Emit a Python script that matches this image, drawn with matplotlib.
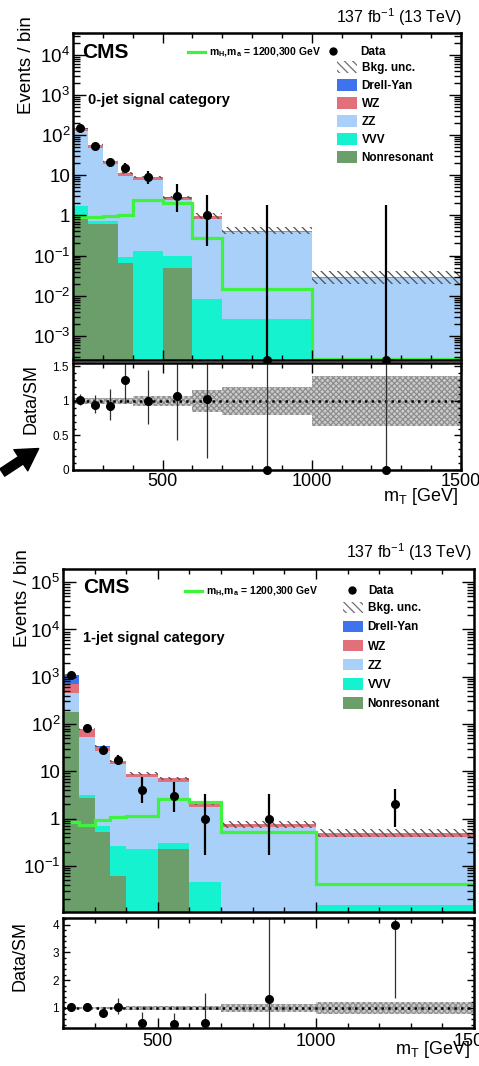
import numpy as np
import matplotlib
matplotlib.use("Agg")
import matplotlib.pyplot as plt
from matplotlib.lines import Line2D
from matplotlib.patches import Patch
from matplotlib.ticker import MultipleLocator, LogLocator, FuncFormatter, NullFormatter

plt.rcParams['font.family'] = ['Liberation Sans', 'DejaVu Sans']
plt.rcParams['mathtext.fontset'] = 'custom'
plt.rcParams['mathtext.rm'] = 'Liberation Sans'
plt.rcParams['mathtext.it'] = 'Liberation Sans:italic'
plt.rcParams['mathtext.bf'] = 'Liberation Sans:bold'
plt.rcParams['hatch.linewidth'] = 0.9

W, H = 479, 1066

# bin edges in mT [GeV]
edges = [200, 250, 300, 350, 400, 500, 600, 700, 1000, 1500]
centers = [225, 275, 325, 375, 450, 550, 650, 850, 1250]

# ---- 0-jet category ----
nonres0 = [0.95, 0.62, 0.62, 0.065, 0.0, 0.05, 0.0, 0.0, 0.0]
vvv0 = [0.75, 0.10, 0.10, 0.029, 0.13, 0.05, 0.0085, 0.0027, 0.00001]
zz0 = [122, 48, 18.4, 9.55, 7.55, 2.27, 0.81, 0.375, 0.028]
wz0 = [22, 9.0, 3.4, 1.8, 1.3, 0.42, 0.15, 0.04, 0.002]
dy0 = [1.5, 0.3, 0.1, 0.05, 0.02, 0.01, 0.005, 0.002, 0.0]
unc0 = [0.04, 0.04, 0.04, 0.04, 0.075, 0.075, 0.16, 0.2, 0.36]
signal0 = [0.9, 0.92, 0.97, 1.05, 2.4, 2.0, 0.27, 0.015, 0.000001]
data0 = [150, 55, 21, 15, 9, 3, 1, 0, 0]
data0_lo = [12, 7, 4.5, 3.8, 3.0, 1.8, 0.83, 0, 0]
data0_hi = [12, 8, 5.5, 4.9, 4.1, 3.0, 2.3, 1.84, 1.84]

# ---- 1-jet category ----
nonres1 = [180, 2.7, 0.51, 0.061, 0.0, 0.23, 0.0, 0.0, 0.0]
vvv1 = [2.0, 0.5, 0.19, 0.2, 0.23, 0.07, 0.046, 0.005, 0.015]
zz1 = [278, 49.8, 26.3, 13.7, 7.47, 5.7, 1.75, 0.675, 0.385]
wz1 = [250, 24, 6.5, 2.7, 1.2, 1.1, 0.33, 0.08, 0.1]
dy1 = [358, 1.0, 0.5, 0.04, 0.0, 0.0, 0.0, 0.0, 0.0]
unc1 = [0.05, 0.05, 0.05, 0.05, 0.07, 0.07, 0.07, 0.15, 0.2]
signal1 = [0.83, 0.75, 0.94, 1.07, 1.16, 2.6, 2.3, 0.51, 0.042]
data1 = [1100, 82, 28, 17.5, 4, 3, 1, 1, 2]
data1_lo = [33, 9, 5.3, 4.2, 1.9, 1.64, 0.83, 0.83, 1.32]
data1_hi = [33, 9.5, 5.8, 5.0, 3.6, 2.9, 2.3, 2.3, 2.28]

stack_names = ['Nonresonant', 'VVV', 'ZZ', 'WZ', 'Drell-Yan']
colors = {'Drell-Yan': '#3d74ee', 'WZ': '#e2707a', 'ZZ': '#a9d0f9',
          'VVV': '#14f2d0', 'Nonresonant': '#6c9e6c'}
sig_color = '#3ef23e'


def px_box(x0, y0, x1, y1):
    return [x0 / W, 1 - y1 / H, (x1 - x0) / W, (y1 - y0) / H]


def log_fmt(v, pos):
    if abs(v - 1) < 1e-9:
        return '1'
    if abs(v - 10) < 1e-9:
        return '10'
    return r'$10^{%d}$' % int(round(np.log10(v)))


def draw_category(fig, cfg):
    ax = fig.add_axes(px_box(*cfg['main']))
    axr = fig.add_axes(px_box(*cfg['ratio']))
    ymin, ymax = cfg['ylim']

    # stacked backgrounds
    bottom = np.full(len(centers), ymin * 1e-3)
    for name in stack_names:
        top = bottom + np.array(cfg['comps'][name])
        ax.stairs(top, edges, baseline=bottom, fill=True, color=colors[name], lw=0)
        bottom = top
    total = bottom - ymin * 1e-3
    unc = np.array(cfg['unc'])
    ax.stairs(total * (1 + unc), edges, baseline=total * (1 - unc), fill=True,
              facecolor='none', edgecolor='#505050', hatch='\\\\\\\\', lw=0)

    # signal
    sig = np.clip(cfg['signal'], ymin * 1.06, None)
    ax.stairs(sig, edges, baseline=ymin * 1e-3, color=sig_color, lw=2.3)

    # data
    data = np.array(cfg['data'], dtype=float)
    lo = np.array(cfg['lo'])
    hi = np.array(cfg['hi'])
    nz = data > 0
    ax.errorbar(np.array(centers)[nz], data[nz], yerr=[lo[nz], hi[nz]], fmt='o',
                color='k', ms=5.5, lw=1.6, capsize=0)
    if (~nz).any():
        ax.errorbar(np.array(centers)[~nz], np.full((~nz).sum(), ymin),
                    yerr=[lo[~nz], hi[~nz]], fmt='o', color='k', ms=5.5,
                    lw=1.6, capsize=0, clip_on=False)

    ax.set_yscale('log')
    ax.set_xlim(200, 1500)
    ax.set_ylim(ymin, ymax)
    ax.yaxis.set_major_locator(LogLocator(base=10, numticks=20))
    ax.yaxis.set_minor_locator(LogLocator(base=10, subs=np.arange(2, 10), numticks=100))
    ax.yaxis.set_major_formatter(FuncFormatter(log_fmt))
    ax.yaxis.set_minor_formatter(NullFormatter())

    # ratio panel
    ratio = data / total
    axr.stairs(1 + unc, edges, baseline=1 - unc, fill=True, facecolor='#cccccc',
               edgecolor='#8e8e8e', hatch='xxxxxx', lw=0)
    axr.axhline(1, color='k', ls=':', lw=1.8)
    axr.errorbar(centers, ratio, yerr=[lo / total, hi / total], fmt='none',
                 ecolor='#303030', elinewidth=0.9, capsize=0)
    axr.plot(centers, ratio, 'o', color='k', ms=5.5, clip_on=False, zorder=5)
    axr.set_xlim(200, 1500)
    axr.set_ylim(*cfg['rylim'])
    axr.yaxis.set_major_locator(MultipleLocator(cfg['rmajor']))
    axr.yaxis.set_minor_locator(MultipleLocator(cfg['rminor']))
    axr.yaxis.set_major_formatter(FuncFormatter(lambda v, pos: '%g' % v))

    for a in (ax, axr):
        a.xaxis.set_major_locator(MultipleLocator(500))
        a.xaxis.set_minor_locator(MultipleLocator(100))
        a.tick_params(which='both', direction='in', top=True, right=True, width=1)
        a.tick_params(axis='x', which='major', length=7)
        a.tick_params(axis='x', which='minor', length=3.5)
        for s in a.spines.values():
            s.set_linewidth(1.8)
    ax.tick_params(axis='y', which='major', length=9, labelsize=13.5, pad=2)
    ax.tick_params(axis='y', which='minor', length=5)
    ax.tick_params(axis='x', labelbottom=False)
    axr.tick_params(axis='y', which='major', length=5, labelsize=8.5, pad=3)
    axr.tick_params(axis='y', which='minor', length=2.5)
    axr.tick_params(axis='x', which='major', labelsize=13, pad=cfg['xpad'])

    # texts
    ax.text(cfg['cms'][0], cfg['cms'][1], 'CMS', transform=ax.transAxes,
            fontsize=15, fontweight='bold', va='center', ha='left')
    ax.text(cfg['cat'][0], cfg['cat'][1], cfg['title'], transform=ax.transAxes,
            fontsize=10.5, fontweight='bold', va='center', ha='left')

    # legends
    lg = cfg['leg']
    leg_sig = ax.legend([Line2D([], [], color=sig_color, lw=2.3)],
                        [r'm$_\mathregular{H}$,m$_\mathregular{a}$ = 1200,300 GeV'],
                        loc='center left', bbox_to_anchor=lg['sig'], frameon=False,
                        borderpad=0, borderaxespad=0, handlelength=1.6,
                        handletextpad=0.4, prop={'size': 7.5, 'weight': 'bold'})
    ax.add_artist(leg_sig)
    leg_dat = ax.legend([Line2D([], [], marker='o', color='k', ls='none', ms=5)],
                        ['Data'], loc='center left', bbox_to_anchor=lg['data'],
                        frameon=False, borderpad=0, borderaxespad=0,
                        handlelength=1.0, handletextpad=lg['dpad'],
                        prop={'size': 8.5, 'weight': 'bold'})
    ax.add_artist(leg_dat)
    handles = [Patch(facecolor='none', edgecolor='#707070', hatch='\\\\\\\\', lw=0)]
    labels = ['Bkg. unc.']
    for name in ['Drell-Yan', 'WZ', 'ZZ', 'VVV', 'Nonresonant']:
        handles.append(Patch(facecolor=colors[name], lw=0))
        labels.append(name)
    ax.legend(handles, labels, loc='upper left', bbox_to_anchor=lg['bkg'],
              frameon=False, borderpad=0, borderaxespad=0, handlelength=1.7,
              handleheight=1.1, handletextpad=0.4, labelspacing=lg['spacing'],
              prop={'size': 8.5, 'weight': 'bold'})
    return ax, axr


fig = plt.figure(figsize=(W / 100, H / 100), dpi=100)

cfg0 = dict(main=(73, 33, 461, 360), ratio=(73, 363, 461, 470),
            comps={'Nonresonant': nonres0, 'VVV': vvv0, 'ZZ': zz0, 'WZ': wz0,
                   'Drell-Yan': dy0},
            unc=unc0, signal=signal0, data=data0, lo=data0_lo, hi=data0_hi,
            ylim=(2.5e-4, 3.5e4), rylim=(0, 1.55), rmajor=0.5, rminor=0.1,
            xpad=2, cms=(0.023, 0.939), cat=(0.039, 0.795),
            title='0-jet signal category',
            leg=dict(sig=(0.296, 0.941), data=(0.654, 0.941), dpad=1.8,
                     bkg=(0.68, 0.913), spacing=0.45))
cfg1 = dict(main=(63, 569, 474, 912), ratio=(63, 918, 474, 1028),
            comps={'Nonresonant': nonres1, 'VVV': vvv1, 'ZZ': zz1, 'WZ': wz1,
                   'Drell-Yan': dy1},
            unc=unc1, signal=signal1, data=data1, lo=data1_lo, hi=data1_hi,
            ylim=(0.0106, 1.9e5), rylim=(0.28, 4.24), rmajor=1, rminor=0.2,
            xpad=3.5, cms=(0.049, 0.945), cat=(0.049, 0.799),
            title='1-jet signal category',
            leg=dict(sig=(0.297, 0.935), data=(0.69, 0.935), dpad=0.8,
                     bkg=(0.681, 0.905), spacing=0.55))

draw_category(fig, cfg0)
draw_category(fig, cfg1)

# figure-level labels
lumi = r'137 fb$^{\mathregular{-1}}$ (13 TeV)'
fig.text(462 / W, 1 - 17 / H, lumi, ha='right', va='center', fontsize=11.5)
fig.text(472 / W, 1 - 552 / H, lumi, ha='right', va='center', fontsize=11.5)
fig.text(27 / W, 1 - 16 / H, 'Events / bin', rotation=90, ha='center', va='top', fontsize=13.5)
fig.text(23 / W, 1 - 549 / H, 'Events / bin', rotation=90, ha='center', va='top', fontsize=13.5)
fig.text(31 / W, 1 - 399 / H, 'Data/SM', rotation=90, ha='center', va='center', fontsize=13)
fig.text(20 / W, 1 - 956 / H, 'Data/SM', rotation=90, ha='center', va='center', fontsize=13)
fig.text(458 / W, 1 - 497 / H, r'm$_\mathregular{T}$ [GeV]', ha='right', va='center', fontsize=13)
fig.text(470 / W, 1 - 1050 / H, r'm$_\mathregular{T}$ [GeV]', ha='right', va='center', fontsize=13)

# black arrow in the lower left of the first panel
fig.add_artist(matplotlib.patches.FancyArrowPatch(
    (0 / W, 1 - 474 / H), (41 / W, 1 - 447 / H), transform=fig.transFigure,
    arrowstyle='simple,head_length=1.1,head_width=1.3,tail_width=0.45',
    mutation_scale=14, color='k'))

fig.savefig('out.png', dpi=100)
